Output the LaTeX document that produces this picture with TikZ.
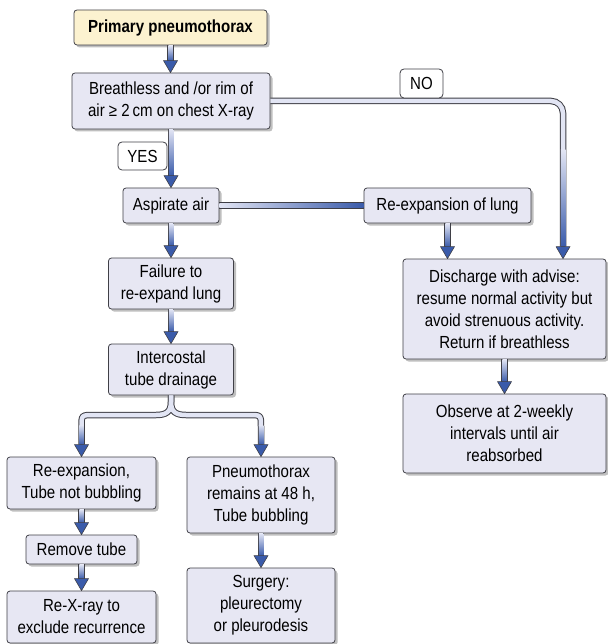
\documentclass[tikz,border=0pt]{standalone}
\usepackage{fontspec}
\setmainfont[FakeStretch=0.86]{Liberation Sans}
\usetikzlibrary{calc,shadows}
\definecolor{cdark}{HTML}{3F3F46}
\definecolor{cfill}{HTML}{E7E7F3}
\definecolor{cyel}{HTML}{FCF2D0}
\definecolor{cblue}{HTML}{3A5BAA}
\definecolor{clight}{HTML}{E2E5F4}
\tikzset{
 box/.style={draw=cdark, line width=0.8pt, fill=cfill, rounded corners=3pt, inner sep=0pt, align=center,
   font=\fontsize{17.5}{22}\selectfont,
   drop shadow={shadow xshift=2.5pt, shadow yshift=-2.5pt, fill=black, opacity=0.25}},
 lab/.style={draw=cdark, line width=0.8pt, fill=white, rounded corners=4pt, inner sep=0pt, align=center,
   font=\fontsize{17.5}{22}\selectfont},
 pipeout/.style={draw=cdark, line width=6.5pt},
 pipein/.style={draw=clight, line width=4.5pt},
 headst/.style={fill=cblue, draw=cdark, line width=0.6pt, line join=round}
}
\newcommand\varr[2]{%
 \draw[pipeout] #1 -- ($#2+(0,-12)$);
 \shade[top color=clight, bottom color=cblue] ($#1+(-2.25,0)$) rectangle ($#2+(2.25,-12)$);
 \filldraw[headst] ($#2+(-7,-12)$) -- #2 -- ($#2+(7,-12)$) -- cycle;}
\newcommand\ahead[1]{\filldraw[headst] ($#1+(-7,-12)$) -- #1 -- ($#1+(7,-12)$) -- cycle;}
\begin{document}
\begin{tikzpicture}[x=1pt,y=-1pt]
\useasboundingbox (0,0) rectangle (607,644);
% boxes
\node[box, fill=cyel, minimum width=193, minimum height=35] (prim) at (170.5,27.5) {\bfseries Primary pneumothorax};
\node[box, minimum width=198, minimum height=56] (breath) at (171,101) {Breathless and /or rim of\\air ≥ 2\,cm on chest X-ray};
\node[box, minimum width=96, minimum height=35] (asp) at (171,205.5) {Aspirate air};
\node[box, minimum width=125, minimum height=51] (fail) at (171,283.5) {Failure to\\re-expand lung};
\node[box, minimum width=125, minimum height=51] (ic) at (171,369.5) {Intercostal\\tube drainage};
\node[box, minimum width=167, minimum height=35] (rel) at (447.5,205.5) {Re-expansion of lung};
\node[box, minimum width=203, minimum height=100] (dis) at (504.5,309) {Discharge with advise:\\resume normal activity but\\avoid strenuous activity.\\Return if breathless};
\node[box, minimum width=203, minimum height=79] (obs) at (504.5,433.5) {Observe at 2-weekly\\intervals until air\\reabsorbed};
\node[box, minimum width=149, minimum height=52] (rt) at (81.5,483) {Re-expansion,\\Tube not bubbling};
\node[box, minimum width=111, minimum height=29] (rm) at (81.5,549.5) {Remove tube};
\node[box, minimum width=149, minimum height=52] (rx) at (81.5,617) {Re-X-ray to\\exclude recurrence};
\node[box, minimum width=148, minimum height=76] (pn) at (261,495) {Pneumothorax\\remains at 48 h,\\Tube bubbling};
\node[box, minimum width=148, minimum height=75] (sg) at (261,605.5) {Surgery:\\pleurectomy\\or pleurodesis};
% straight arrows
\varr{(prim.south)}{(prim.south |- breath.north)}
\varr{(breath.south)}{(breath.south |- asp.north)}
\varr{(asp.south)}{(asp.south |- fail.north)}
\varr{(fail.south)}{(fail.south |- ic.north)}
\varr{(rel.south)}{(rel.south |- dis.north)}
\varr{(dis.south)}{(dis.south |- obs.north)}
\varr{(rt.south)}{(rt.south |- rm.north)}
\varr{(rm.south)}{(rm.south |- rx.north)}
\varr{(pn.south)}{(pn.south |- sg.north)}
% aspirate -> re-expansion
\draw[pipeout] (asp.east) -- (rel.west);
\shade[left color=clight, right color=cblue] ($(asp.east)+(0,-2.25)$) rectangle ($(rel.west)+(0,2.25)$);
% NO pipe
\coordinate (noX) at (563,101);
\draw[pipeout, rounded corners=12pt] (breath.east) -- (noX) -- ($(noX |- dis.north)+(0,-12)$);
\draw[pipein, rounded corners=12pt] (breath.east) -- (noX) -- ($(noX |- dis.north)+(0,-12)$);
\shade[top color=clight, bottom color=cblue] (560.75,150) rectangle ($(noX |- dis.north)+(2.25,-12)$);
\ahead{(noX |- dis.north)}
% brace
\coordinate (bs) at (171,402);
\foreach \p in {pipeout, pipein}{
 \draw[\p] (ic.south) -- (bs) .. controls (171,412) and (166,415) .. (156,415) -- (94,415)
   .. controls (81.5,415) .. (81.5,427) -- ($(rt.north)+(0,-12)$);
 \draw[\p] (ic.south) -- (bs) .. controls (171,412) and (176,415) .. (186,415) -- (249,415)
   .. controls (261,415) .. (261,427) -- ($(pn.north)+(0,-12)$);
}
\shade[top color=clight, bottom color=cblue] (79.25,425) rectangle ($(rt.north)+(2.25,-12)$);
\shade[top color=clight, bottom color=cblue] (258.75,425) rectangle ($(pn.north)+(2.25,-12)$);
\ahead{(rt.north)}
\ahead{(pn.north)}
% labels
\node[lab, minimum width=49, minimum height=28] (yes) at (142.5,156) {YES};
\node[lab, minimum width=43, minimum height=29] (no) at (421.5,83.5) {NO};
\end{tikzpicture}
\end{document}
